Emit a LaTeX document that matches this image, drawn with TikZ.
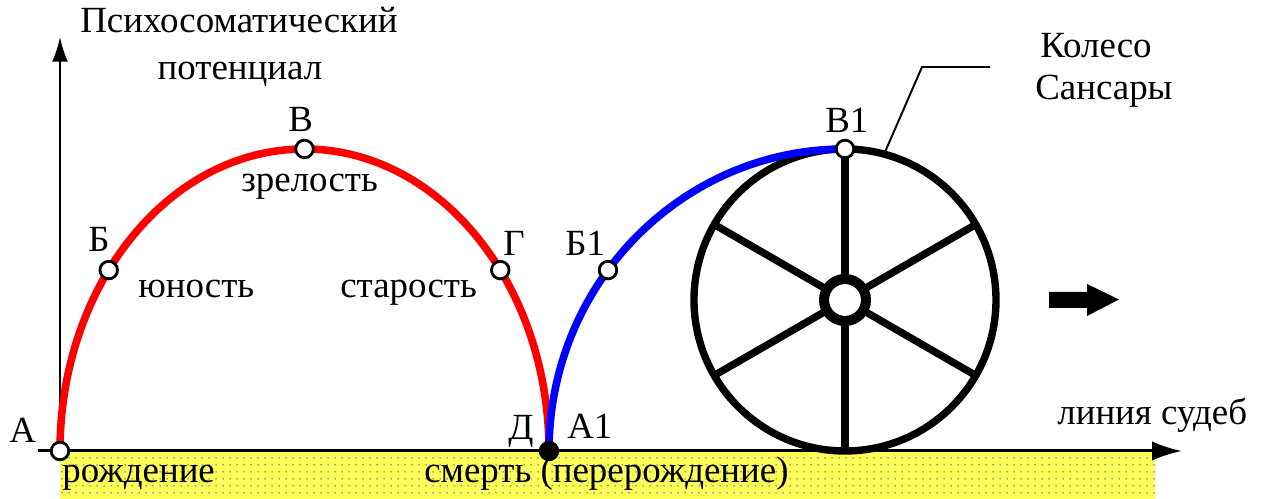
\documentclass[tikz,border=0pt]{standalone}
\usepackage{fontspec}
\setmainfont{Liberation Serif}
\usetikzlibrary{arrows.meta,patterns.meta}
\definecolor{bandyellow}{RGB}{255,255,90}
\begin{document}
\begin{tikzpicture}[x=0.02cm,y=0.02cm,
  lbl/.style={inner sep=0pt,anchor=base west,font=\fontsize{21}{25}\selectfont},
  pt/.style={circle,draw=black,fill=white,line width=1.6pt,minimum size=10pt,inner sep=0pt},
  ptblack/.style={pt,fill=black},
  arcline/.style={line width=4.3pt},
  wheel/.style={line width=4.2pt}]
  \useasboundingbox[fill=white] (0,0) rectangle (1262,499);

  % полоса под линией судеб
  \fill[bandyellow] (60,0) rectangle (1155,48);
  \fill[pattern={Dots[distance=4pt,radius=0.55pt]},pattern color=black!50] (60,0) rectangle (1155,48);

  % оси
  \coordinate (A) at (60,48);
  \coordinate (O) at (38,48);
  \coordinate (Xend) at (1182,48);
  \coordinate (Yend) at (60,462);
  \draw[line width=1.7pt,-{Latex[length=17pt,width=11pt]}] (O) -- (Xend);
  \draw[line width=1.1pt,-{Latex[length=14pt,width=9pt]}] (A) -- (Yend);

  % жизнь: красная дуга
  \coordinate (c1) at (304.5,48);
  \path (c1) ++(143.2:244.5 and 302) coordinate (B);
  \path (c1) ++(90:244.5 and 302) coordinate (V);
  \path (c1) ++(36.8:244.5 and 302) coordinate (G);
  \path (c1) ++(0:244.5 and 302) coordinate (D);
  \draw[red,arcline] (A) arc[start angle=180,end angle=0,x radius=244.5,y radius=302];

  % колесо Сансары
  \coordinate (W) at (845,199);
  \foreach \a in {30,90,...,330}
    \draw[wheel] (W) ++(\a:24) -- ++(\a:127);
  \draw[wheel] (W) circle[radius=151];
  \draw[line width=5.7pt,fill=white] (W) circle[radius=21];

  % новая жизнь: синяя дуга
  \coordinate (c2) at (845,48);
  \path (c2) ++(143.2:296 and 302) coordinate (B1);
  \path (c2) ++(90:296 and 302) coordinate (V1);
  \draw[blue,arcline] (D) arc[start angle=180,end angle=90,x radius=296,y radius=302];

  % точки
  \node[pt] (pA) at (A) {};
  \node[pt] (pB) at (B) {};
  \node[pt] (pV) at (V) {};
  \node[pt] (pG) at (G) {};
  \node[ptblack] (pD) at (D) {};
  \node[pt] (pB1) at (B1) {};
  \node[pt] (pV1) at (V1) {};

  % стрелка движения
  \fill (1049,191) -- (1087,191) -- (1087,183) -- (1119,199.5)
        -- (1087,215) -- (1087,207) -- (1049,207) -- cycle;

  % подписи
  \node[lbl] (tA) at (9,56) {А};
  \node[lbl] (tB) at (88,247) {Б};
  \node[lbl] (tV) at (288,367) {В};
  \node[lbl] (tG) at (503,243) {Г};
  \node[lbl] (tD) at (508,59) {Д};
  \node[lbl] (tA1) at (567,60) {А1};
  \node[lbl] (tB1) at (565,243) {Б1};
  \node[lbl] (tV1) at (825,366) {В1};
  \node[lbl] (tmat) at (241,307) {зрелость};
  \node[lbl] (tyun) at (138,201) {юность};
  \node[lbl] (tstar) at (340,201) {старость};
  \node[lbl] (trozh) at (62,16) {рождение};
  \node[lbl] (tsmert) at (424,16) {смерть (перерождение)};
  \node[lbl] (tline) at (1057,74) {линия судеб};
  \node[lbl] (tpsy) at (80,466) {Психосоматический};
  \node[lbl,anchor=base] (tpot) at (240,419) {потенциал};
  \node[lbl] (tkol) at (1040,441) {Колесо};
  \node[lbl] (tsans) at (1035,399) {Сансары};

  % выноска к колесу
  \path (W) ++(75:151) coordinate (lk);
  \coordinate (knee) at (922,432);
  \coordinate (lend) at (990,432);
  \draw[line width=1.1pt] (lk) -- (knee) -- (lend);
\end{tikzpicture}
\end{document}
